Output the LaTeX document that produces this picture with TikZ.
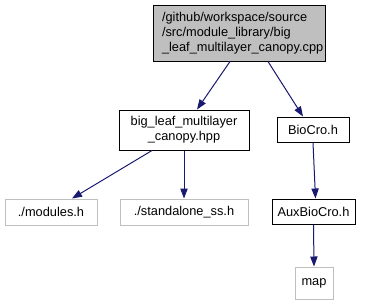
\documentclass[tikz,border=0pt]{standalone}
\usepackage{fontspec}
\setmainfont{Liberation Sans}
\usetikzlibrary{arrows.meta}
\definecolor{edgeblue}{HTML}{191970}
\definecolor{boxgray}{HTML}{BFBFBF}
\tikzset{
  file/.style={draw=black, line width=0.75pt, inner sep=0pt, font=\fontsize{9.6}{11.2}\selectfont},
  extfile/.style={draw=boxgray, line width=0.75pt, inner sep=0pt, font=\fontsize{9.6}{11.2}\selectfont},
  focus/.style={file, fill=boxgray},
  dep/.style={draw=edgeblue, line width=0.75pt, -{Triangle[length=7.5pt,width=5.5pt]}}
}
\begin{document}
\begin{tikzpicture}[x=0.75pt, y=-0.75pt]
\useasboundingbox (0,0) rectangle (371,305);
% source file and its includes
\node[focus, minimum width=172*0.75pt, minimum height=56*0.75pt, text width=154*0.75pt, align=left] (cpp) at (239,33)
  {/github/workspace/source\\/src/module\_library/big\\\_leaf\_multilayer\_canopy.cpp};
\node[file, minimum width=130*0.75pt, minimum height=40*0.75pt, align=center] (hpp) at (184,130)
  {big\_leaf\_multilayer\\\_canopy.hpp};
\node[file, minimum width=72*0.75pt, minimum height=25*0.75pt] (biocro) at (313,129.5) {BioCro.h};
\node[extfile, minimum width=92*0.75pt, minimum height=26*0.75pt] (modules) at (51,212) {./modules.h};
\node[extfile, minimum width=128*0.75pt, minimum height=26*0.75pt] (standalone) at (184,212) {./standalone\_ss.h};
\node[file, minimum width=83*0.75pt, minimum height=25*0.75pt] (aux) at (313.5,211.5) {AuxBioCro.h};
\node[extfile, minimum width=38*0.75pt, minimum height=32*0.75pt] (map) at (314,283) {map};
% include edges
\draw[dep] ([xshift=-9*0.75pt]cpp.south) -- ([xshift=13*0.75pt]hpp.north);
\draw[dep] ([xshift=29*0.75pt]cpp.south) -- ([xshift=-10*0.75pt]biocro.north);
\draw[dep] ([xshift=-32*0.75pt]hpp.south) -- ([xshift=21*0.75pt]modules.north);
\draw[dep] (hpp.south) -- (standalone.north);
\draw[dep] (biocro.south) -- ([xshift=2*0.75pt]aux.north);
\draw[dep] (aux.south) -- (map.north);
\end{tikzpicture}
\end{document}
